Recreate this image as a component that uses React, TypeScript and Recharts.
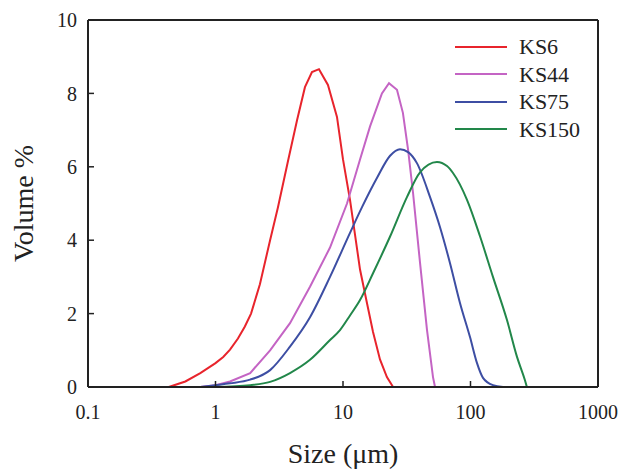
import React from 'react';
import { LineChart, Line, XAxis, YAxis, Legend, ReferenceLine } from 'recharts';

const seriesNames = ['KS6', 'KS44', 'KS75', 'KS150'];
const seriesColors = ['#e8242c', '#c464c4', '#3d4ea3', '#22874a'];
const seriesCurve: ('linear' | 'monotone')[] = ['linear', 'linear', 'monotone', 'monotone'];

const xTicks = [0.1, 1, 10, 100, 1000];
const yTicks = [0, 2, 4, 6, 8, 10];

const ks6Size = [0.43, 0.58, 0.76, 1.0, 1.15, 1.3, 1.5, 1.7, 1.9, 2.23, 2.68, 3.09, 3.7, 4.36, 5.03, 5.71, 6.48, 7.62, 8.97, 10.0, 11.35, 13.6, 15.5, 17.2, 19.5, 22.1, 24.7];
const ks6Vol = [0, 0.15, 0.38, 0.65, 0.82, 1.02, 1.32, 1.65, 2.0, 2.8, 4.0, 4.9, 6.15, 7.27, 8.17, 8.58, 8.66, 8.23, 7.36, 6.2, 5.1, 3.2, 2.25, 1.5, 0.75, 0.27, 0];

const ks44Size = [0.76, 1.0, 1.3, 1.87, 2.68, 3.84, 5.51, 7.91, 10.75, 13.6, 16.3, 20.2, 22.95, 26.5, 29.5, 32.4, 35.4, 40.2, 45.6, 50.8, 52.7];
const ks44Vol = [0, 0.05, 0.15, 0.38, 1.0, 1.74, 2.73, 3.8, 5.0, 6.2, 7.1, 8.0, 8.28, 8.1, 7.47, 6.46, 5.3, 3.38, 1.55, 0.27, 0];

const ks75Size = [0.76, 1.0, 1.3, 1.87, 2.68, 3.84, 5.51, 7.91, 11.35, 14.1, 18.5, 23.4, 28.0, 32.4, 38.0, 48.1, 57.6, 69.0, 82.7, 99.1, 112.5, 125.3, 150, 180];
const ks75Vol = [0, 0.05, 0.1, 0.2, 0.46, 1.1, 1.9, 3.0, 4.2, 4.9, 5.7, 6.3, 6.48, 6.4, 6.1, 5.18, 4.36, 3.38, 2.29, 1.36, 0.65, 0.25, 0.05, 0];

const ks150Size = [1.0, 1.87, 2.68, 3.84, 5.51, 7.91, 9.47, 11.35, 13.6, 17.2, 23.4, 31.8, 40.2, 54.6, 65.4, 72.9, 93.9, 118.9, 150, 193, 231.6, 267, 277];
const ks150Vol = [0, 0.05, 0.14, 0.38, 0.74, 1.28, 1.55, 1.95, 2.37, 3.1, 4.1, 5.18, 5.85, 6.13, 6.02, 5.83, 5.1, 4.1, 3.0, 1.83, 0.82, 0.19, 0];

const toPoints = (xs: number[], ys: number[]) => xs.map((x, i) => ({ size: x, vol: ys[i] }));

const seriesData = [
  toPoints(ks6Size, ks6Vol),
  toPoints(ks44Size, ks44Vol),
  toPoints(ks75Size, ks75Vol),
  toPoints(ks150Size, ks150Vol),
];

const FONT = "'Times New Roman', Times, Tinos, 'Liberation Serif', 'Noto Serif', 'DejaVu Serif', Georgia, serif";
const INK = '#222';

const renderLegend = () => (
  <div style={{ fontFamily: FONT, fontSize: 22, color: INK }}>
    {seriesNames.map((n, i) => (
      <div key={n} style={{ display: 'flex', alignItems: 'center', height: 27.5, lineHeight: '27.5px' }}>
        <svg width={52} height={4} style={{ display: 'block' }}>
          <line x1={0} y1={2} x2={52} y2={2} stroke={seriesColors[i]} strokeWidth={2} />
        </svg>
        <span style={{ marginLeft: 12 }}>{n}</span>
      </div>
    ))}
  </div>
);

export default function App() {
  return (
    <div style={{ width: 621, height: 470, background: '#fff', position: 'relative', fontFamily: FONT }}>
      <style>{'body{margin:0;background:#fff}'}</style>
      <LineChart width={621} height={470} margin={{ top: 20, right: 23, left: 0, bottom: 0 }}>
        <XAxis
          dataKey="size"
          type="number"
          scale="log"
          domain={[0.1, 1000]}
          ticks={xTicks}
          interval={0}
          allowDataOverflow
          height={83}
          tickSize={-6}
          tickMargin={24}
          axisLine={{ stroke: INK, strokeWidth: 2 }}
          tickLine={{ stroke: INK, strokeWidth: 1.5 }}
          tick={{ fill: INK, fontSize: 20, fontFamily: FONT }}
          label={{ value: 'Size (μm)', position: 'insideBottom', offset: 7, style: { fontSize: 28, fontFamily: FONT, fill: INK } }}
        />
        <YAxis
          type="number"
          domain={[0, 10]}
          ticks={yTicks}
          interval={0}
          width={88}
          tickSize={-6}
          tickMargin={17}
          axisLine={{ stroke: INK, strokeWidth: 2 }}
          tickLine={{ stroke: INK, strokeWidth: 1.5 }}
          tick={{ fill: INK, fontSize: 20, fontFamily: FONT }}
          label={{ value: 'Volume %', angle: -90, position: 'insideLeft', offset: 23, style: { textAnchor: 'middle', fontSize: 28, fontFamily: FONT, fill: INK } }}
        />
        <ReferenceLine y={10} stroke={INK} strokeWidth={2} />
        <ReferenceLine x={1000} stroke={INK} strokeWidth={2} />
        {seriesNames.map((n, i) => (
          <Line
            key={n}
            data={seriesData[i]}
            dataKey="vol"
            name={n}
            type={seriesCurve[i]}
            stroke={seriesColors[i]}
            strokeWidth={2}
            dot={false}
            isAnimationActive={false}
          />
        ))}
        <Legend
          layout="vertical"
          align="center"
          verticalAlign="middle"
          wrapperStyle={{ left: 455, top: 33, width: 160, height: 112 }}
          content={renderLegend}
        />
      </LineChart>
    </div>
  );
}
